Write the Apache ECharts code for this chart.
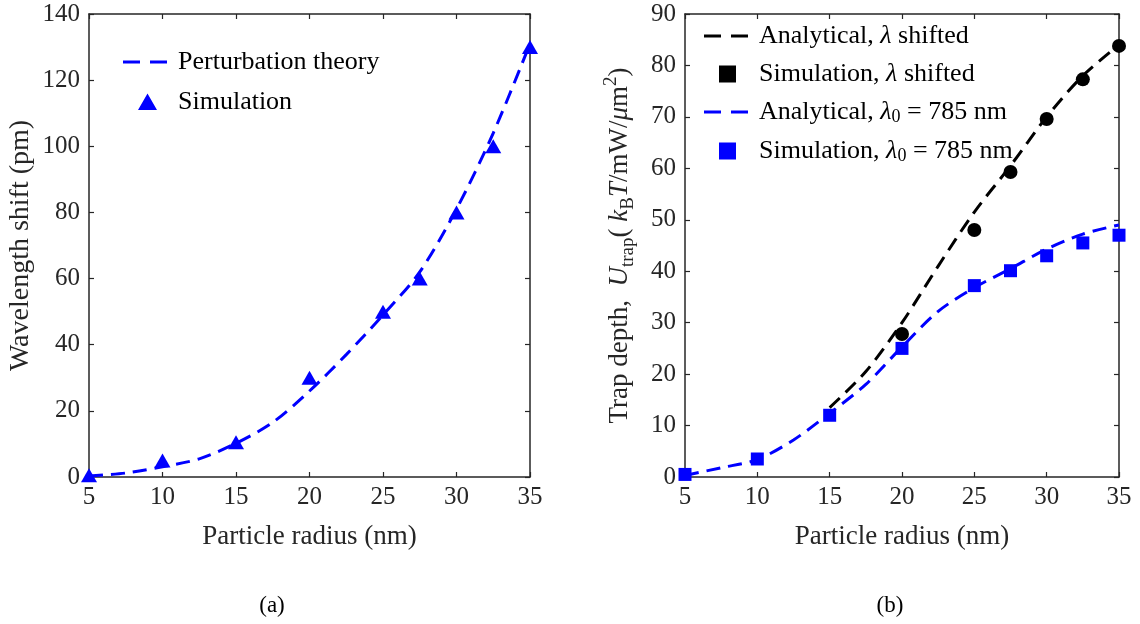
<!DOCTYPE html>
<html>
<head>
<meta charset="utf-8">
<script src="https://cdn.jsdelivr.net/npm/echarts@6/dist/echarts.min.js"></script>
<style>
html,body{margin:0;padding:0;background:#fff;}
#chart{width:1140px;height:624px;}
</style>
</head>
<body>
<div id="chart"></div>
<script>
// ---------- data ----------
const radiusTicks = [5, 10, 15, 20, 25, 30, 35];

// (a) wavelength shift
const simRadius = [5, 10, 15, 20, 25, 27.5, 30, 32.5, 35];
const shiftSimulation = [0.5, 5, 10.5, 30, 50, 60, 80, 100, 130];
const theoryRadius = [5, 7.5, 10, 12.5, 15, 17.5, 20, 22.5, 25, 27.5, 30, 32.5, 35];
const shiftTheory = [0.3, 1.2, 3.1, 5.5, 10.2, 16.5, 26, 37, 49, 62, 81, 104, 131];

// (b) trap depth
const trapSimBlue = [0.5, 3.5, 12, 25, 37.2, 40.1, 43, 45.5, 47];
const shiftedRadius = [20, 25, 27.5, 30, 32.5, 35];
const trapSimShifted = [27.8, 48, 59.3, 69.6, 77.3, 83.8];
const trapTheoryBlue = [0.3, 1.8, 3.4, 7.2, 12.4, 18, 25.3, 32.2, 36.8, 40.5, 44.3, 47.2, 49];
const shiftedTheoryRadius = [15, 17.5, 20, 22.5, 25, 27.5, 30, 32.5, 35];
const trapTheoryShifted = [13.5, 20.5, 30, 41, 51.5, 60.5, 70, 78, 84];

const leftNames = ['Perturbation theory', 'Simulation'];
const rightNames = ['Analytical, λ shifted', 'Simulation, λ shifted', 'Analytical, λ0 = 785 nm', 'Simulation, λ0 = 785 nm'];

// ---------- helpers ----------
const zip = (xs, ys) => xs.map((x, i) => [x, ys[i]]);
const FONT = '"Liberation Serif", "Times New Roman", serif';
const AX = '#262626';
const BLUE = '#0000ff';
const DASH = [14, 8];

function xAx(grid, pos) {
  return {
    type: 'value', gridIndex: grid, position: pos, min: 5, max: 35, interval: 5,
    axisLine: { show: true, onZero: false, lineStyle: { color: AX, width: 1.5 } },
    axisTick: { show: true, inside: true, length: 5, lineStyle: { color: AX, width: 1.2 } },
    axisLabel: { show: pos === 'bottom', fontFamily: FONT, fontSize: 25, color: AX, margin: 8 },
    splitLine: { show: false },
    name: pos === 'bottom' ? 'Particle radius (nm)' : '',
    nameLocation: 'middle', nameGap: 46,
    nameTextStyle: { fontFamily: FONT, fontSize: 27, color: AX }
  };
}
function yAx(grid, pos, max, interval, name, gap, rich) {
  return {
    type: 'value', gridIndex: grid, position: pos, min: 0, max: max, interval: interval,
    axisLine: { show: true, onZero: false, lineStyle: { color: AX, width: 1.5 } },
    axisTick: { show: true, inside: true, length: 5, lineStyle: { color: AX, width: 1.2 } },
    axisLabel: { show: pos === 'left', fontFamily: FONT, fontSize: 25, color: AX, margin: 9 },
    splitLine: { show: false },
    name: pos === 'left' ? name : '',
    nameLocation: 'middle', nameGap: gap, nameRotate: 90,
    nameTextStyle: { fontFamily: FONT, fontSize: 28, color: AX, rich: rich || {} }
  };
}

const yRich = {
  n: { fontFamily: FONT, fontSize: 27, color: AX, lineHeight: 36, verticalAlign: 'middle' },
  i: { fontFamily: FONT, fontSize: 27, fontStyle: 'italic', color: AX, lineHeight: 36, verticalAlign: 'middle' },
  sub: { fontFamily: FONT, fontSize: 19, color: AX, lineHeight: 20, verticalAlign: 'bottom' },
  sup: { fontFamily: FONT, fontSize: 19, color: AX, lineHeight: 20, verticalAlign: 'top' }
};
const yNameRight = '{n|Trap depth,  }{i|U}{sub|trap}{n|(}{i| k}{sub|B}{i|T}{n|/mW/}{i|μ}{n|m}{sup|2}{n|)}';

const legRich = {
  n: { fontFamily: FONT, fontSize: 26, color: '#000', lineHeight: 28, verticalAlign: 'middle' },
  i: { fontFamily: FONT, fontSize: 26, fontStyle: 'italic', color: '#000', lineHeight: 28, verticalAlign: 'middle' },
  sub: { fontFamily: FONT, fontSize: 18, color: '#000', lineHeight: 16, verticalAlign: 'bottom' }
};
function legFmt(name) {
  const parts = name.replace('λ0', '\u0001').split(/(\u0001|λ)/);
  return parts.filter(p => p !== '').map(p => {
    if (p === '\u0001') return '{i|λ}{sub|0}';
    if (p === 'λ') return '{i|λ}';
    return '{n|' + p + '}';
  }).join('');
}

// legend icons (50 x 18 boxes, tiny corner dots fix the bounding box)
const CORNERS = 'M0,0h0.01v0.01h-0.01zM50,18h-0.01v-0.01h0.01z';
const dashIcon = 'path://' + CORNERS + 'M0,7.5h17v3h-17zM27,7.5h17v3h-17z';
const triIcon = 'path://' + CORNERS + 'M15,17L24.5,0.5L34,17z';
const sqIcon = 'path://' + CORNERS + 'M15,0.5h17v17h-17z';

const option = {
  backgroundColor: '#fff',
  animation: false,
  grid: [
    { left: 89, right: 610, top: 14, bottom: 147, containLabel: false },
    { left: 685, right: 21, top: 14, bottom: 147, containLabel: false }
  ],
  xAxis: [xAx(0, 'bottom'), xAx(1, 'bottom'), xAx(0, 'top'), xAx(1, 'top')],
  yAxis: [
    yAx(0, 'left', 140, 20, 'Wavelength shift (pm)', 54),
    yAx(1, 'left', 90, 10, yNameRight, 47, yRich),
    yAx(0, 'right', 140, 20, ''),
    yAx(1, 'right', 90, 10, '')
  ],
  legend: [
    {
      data: [{ name: leftNames[0], icon: dashIcon }, { name: leftNames[1], icon: triIcon }],
      orient: 'vertical', left: 118, top: 44, itemWidth: 50, itemHeight: 18, itemGap: 14,
      formatter: legFmt, textStyle: { rich: legRich, fontFamily: FONT, fontSize: 26 }
    },
    {
      data: [{ name: rightNames[0], icon: dashIcon }, { name: rightNames[1], icon: sqIcon },
             { name: rightNames[2], icon: dashIcon }, { name: rightNames[3], icon: sqIcon }],
      orient: 'vertical', left: 699, top: 18, itemWidth: 50, itemHeight: 18, itemGap: 12,
      formatter: legFmt, textStyle: { rich: legRich, fontFamily: FONT, fontSize: 26 }
    }
  ],
  graphic: [
    { type: 'text', x: 272, y: 606, style: { text: '(a)', font: '23px ' + FONT, fill: '#000', textAlign: 'center', textVerticalAlign: 'middle' } },
    { type: 'text', x: 890, y: 606, style: { text: '(b)', font: '23px ' + FONT, fill: '#000', textAlign: 'center', textVerticalAlign: 'middle' } }
  ],
  series: [
    {
      name: leftNames[0], type: 'line', xAxisIndex: 0, yAxisIndex: 0,
      data: zip(theoryRadius, shiftTheory), smooth: 0.3, symbol: 'none',
      lineStyle: { color: BLUE, width: 3, type: DASH }, itemStyle: { color: BLUE }, z: 3
    },
    {
      name: leftNames[1], type: 'scatter', xAxisIndex: 0, yAxisIndex: 0,
      data: zip(simRadius, shiftSimulation), symbol: 'triangle', symbolSize: [16, 14],
      itemStyle: { color: BLUE, opacity: 1 }, z: 4
    },
    {
      name: rightNames[0], type: 'line', xAxisIndex: 1, yAxisIndex: 1,
      data: zip(shiftedTheoryRadius, trapTheoryShifted), smooth: 0.3, symbol: 'none',
      lineStyle: { color: '#000', width: 3, type: DASH }, itemStyle: { color: '#000' }, z: 3
    },
    {
      name: rightNames[1], type: 'scatter', xAxisIndex: 1, yAxisIndex: 1,
      data: zip(shiftedRadius, trapSimShifted), symbol: 'circle', symbolSize: 14,
      itemStyle: { color: '#000', opacity: 1 }, z: 4
    },
    {
      name: rightNames[2], type: 'line', xAxisIndex: 1, yAxisIndex: 1,
      data: zip(theoryRadius, trapTheoryBlue), smooth: 0.3, symbol: 'none',
      lineStyle: { color: BLUE, width: 3, type: DASH }, itemStyle: { color: BLUE }, z: 3
    },
    {
      name: rightNames[3], type: 'scatter', xAxisIndex: 1, yAxisIndex: 1,
      data: zip(simRadius, trapSimBlue), symbol: 'rect', symbolSize: 13,
      itemStyle: { color: BLUE, opacity: 1 }, z: 4
    }
  ]
};

const chart = echarts.init(document.getElementById('chart'), null, { renderer: 'canvas' });
chart.setOption(option);
</script>
</body>
</html>
